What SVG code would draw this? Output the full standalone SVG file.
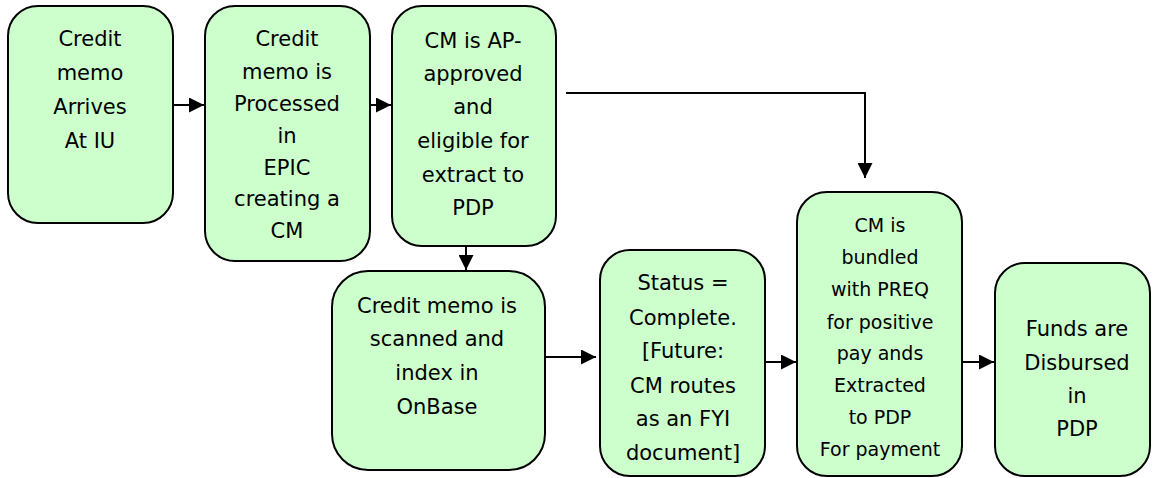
<svg xmlns="http://www.w3.org/2000/svg" width="1153" height="478" viewBox="0 0 1153 478">
<defs>
<style>
.box{fill:#CCFFCC;stroke:#000;stroke-width:2}
.t{font-family:"Comic Sans MS","DejaVu Sans",sans-serif;font-size:21px;fill:#000;text-anchor:middle}
.s{font-size:19px}
.c{fill:none;stroke:#000;stroke-width:2}
</style>
<marker id="ah" viewBox="0 0 10 10" refX="10" refY="5" markerWidth="15" markerHeight="15" markerUnits="userSpaceOnUse" orient="auto">
<path d="M0,0 L10,5 L0,10 z" fill="#000"/>
</marker>
</defs>
<rect width="1153" height="478" fill="#fff"/>
<g id="connectors">
<line class="c" x1="173" y1="105" x2="204" y2="105" marker-end="url(#ah)"/>
<line class="c" x1="370" y1="105" x2="391" y2="105" marker-end="url(#ah)"/>
<line class="c" x1="466" y1="235" x2="466" y2="270" marker-end="url(#ah)"/>
<polyline class="c" points="566,93 865,93 865,178" marker-end="url(#ah)"/>
<line class="c" x1="540" y1="357" x2="596" y2="357" marker-end="url(#ah)"/>
<line class="c" x1="765" y1="362" x2="796" y2="362" marker-end="url(#ah)"/>
<line class="c" x1="962" y1="362" x2="994" y2="362" marker-end="url(#ah)"/>
</g>
<g id="n1">
<rect class="box" x="8" y="6" width="165" height="217" rx="30"/>
<text class="t"><tspan x="90" y="46">Credit</tspan><tspan x="90" y="80">memo</tspan><tspan x="90" y="114">Arrives</tspan><tspan x="90" y="148">At IU</tspan></text>
</g>
<g id="n2">
<rect class="box" x="205" y="6" width="165" height="255" rx="30"/>
<text class="t"><tspan x="287" y="46">Credit</tspan><tspan x="287" y="79">memo is</tspan><tspan x="287" y="111">Processed</tspan><tspan x="287" y="143">in</tspan><tspan x="287" y="175">EPIC</tspan><tspan x="287" y="206">creating a</tspan><tspan x="287" y="238">CM</tspan></text>
</g>
<g id="n3">
<rect class="box" x="392" y="6" width="164" height="240" rx="30"/>
<text class="t"><tspan x="473" y="48">CM is AP-</tspan><tspan x="473" y="81">approved</tspan><tspan x="473" y="114">and</tspan><tspan x="473" y="148">eligible for</tspan><tspan x="473" y="182">extract to</tspan><tspan x="473" y="215">PDP</tspan></text>
</g>
<g id="n4">
<rect class="box" x="332" y="271" width="213" height="199" rx="36"/>
<text class="t"><tspan x="437" y="313">Credit memo is</tspan><tspan x="437" y="346">scanned and</tspan><tspan x="437" y="380">index in</tspan><tspan x="437" y="414">OnBase</tspan></text>
</g>
<g id="n5">
<rect class="box" x="600" y="250" width="165" height="226" rx="30"/>
<text class="t"><tspan x="683" y="290">Status =</tspan><tspan x="683" y="325">Complete.</tspan><tspan x="683" y="358">[Future:</tspan><tspan x="683" y="393">CM routes</tspan><tspan x="683" y="426">as an FYI</tspan><tspan x="683" y="460">document]</tspan></text>
</g>
<g id="n6">
<rect class="box" x="797" y="192" width="165" height="284" rx="30"/>
<text class="t s"><tspan x="880" y="232">CM is</tspan><tspan x="880" y="264">bundled</tspan><tspan x="880" y="296">with PREQ</tspan><tspan x="880" y="329">for positive</tspan><tspan x="880" y="360">pay ands</tspan><tspan x="880" y="392">Extracted</tspan><tspan x="880" y="424">to PDP</tspan><tspan x="880" y="456">For payment</tspan></text>
</g>
<g id="n7">
<rect class="box" x="995" y="263" width="155" height="213" rx="30"/>
<text class="t"><tspan x="1077" y="336">Funds are</tspan><tspan x="1077" y="370">Disbursed</tspan><tspan x="1077" y="403">in</tspan><tspan x="1077" y="436">PDP</tspan></text>
</g>
</svg>
